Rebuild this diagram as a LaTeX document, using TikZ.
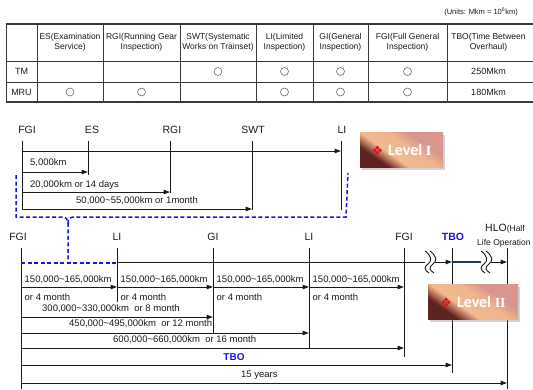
\documentclass[tikz,border=0pt]{standalone}
\usepackage{fontspec}
\setmainfont{Liberation Sans}
\newfontfamily\symfont{DejaVu Sans}
\newfontfamily\numfont{Liberation Serif}
\newfontfamily\lvfont{Carlito}
\usetikzlibrary{arrows.meta,positioning,calc,shadows}
\definecolor{mtblack}{HTML}{1A1A1A}
\definecolor{mtgrey}{HTML}{6A6A6A}
\definecolor{mtline}{HTML}{3A3A3A}
\definecolor{mtblue}{HTML}{1414E6}
\definecolor{mtnavy}{HTML}{1F3A6E}
\definecolor{mtdark}{HTML}{5E2220}
\definecolor{mtbrown}{HTML}{B8745A}
\definecolor{mtpeach}{HTML}{F2BA8E}
\definecolor{mtpink}{HTML}{D9958E}
\definecolor{mtred}{HTML}{E0141E}
\pgfdeclarehorizontalshading{lvshade}{100bp}{color(0bp)=(mtdark); color(30bp)=(mtdark);
  color(36bp)=(mtbrown); color(41bp)=(mtpeach); color(56bp)=(mtpeach!85!mtpink);
  color(66bp)=(mtpink); color(100bp)=(mtpink)}
\newcommand\kmto{\textasciitilde}
\tikzset{
  tl/.style   = {font=\fontsize{10.5}{12}\selectfont, text=mtblack, inner sep=0pt},
  km/.style   = {font=\fontsize{9.5}{11}\selectfont, text=mtblack, inner sep=0pt, anchor=west},
  hd/.style   = {font=\fontsize{8.5}{10.5}\selectfont, text=mtblack, align=center, inner sep=0pt},
  ev/.style   = {draw=mtblack, line width=1pt},
  ar/.style   = {-{Triangle[length=6.5pt,width=4.5pt]}, draw=mtblack, line width=1pt},
  grid/.style = {draw=mtline, line width=0.8pt},
  mk/.style   = {circle, draw=mtgrey, line width=0.6pt, minimum size=8pt, inner sep=0pt},
  brc/.style  = {draw=mtblue, line width=1.5pt, dash pattern=on 4pt off 2.5pt},
  lvl/.style  = {rectangle, minimum height=35pt, inner sep=0pt, shading=lvshade,
                 shading angle=55, text=white,
                 drop shadow={shadow xshift=1.5pt, shadow yshift=-2.5pt, opacity=0.35},
                 font=\lvfont\bfseries\fontsize{16}{16}\selectfont},
}
\newcommand\brk[1]{%
  \foreach \dx in {-3,2}{
    \draw[line width=0.9pt, mtblack] ($(#1)+(\dx-2,-11)$) .. controls ($(#1)+(\dx+5,-6)$) and ($(#1)+(\dx+5,-1)$) ..
      ($(#1)+(\dx+1,2)$) .. controls ($(#1)+(\dx-3,5)$) and ($(#1)+(\dx-3,8)$) .. ($(#1)+(\dx+2,11)$);
  }}
\newcommand\lvmark{{\symfont\color{mtred}\fontsize{13}{13}\selectfont ❖}\hspace{5pt}}

\begin{document}
\begin{tikzpicture}[x=1pt,y=-1pt]
  \useasboundingbox (0,0) rectangle (533,389);
  % table
  \node[hd, anchor=east, font=\fontsize{7.5}{9}\selectfont] (unit) at (518,12) {(Units: Mkm = 10\textsuperscript{6}km)};
  \draw[mtline, line width=1.6pt] (6,24) -- (533,24);
  \draw[mtline, line width=1.6pt] (6,102) -- (533,102);
  \foreach \y in {61,82}{ \draw[grid] (6,\y) -- (533,\y); }
  \foreach \x in {6,37,103,180,256,313,368,447}{ \draw[grid] (\x,24) -- (\x,102); }
  \foreach \i/\x/\t in {1/70/{ES(Examination\\Service)}, 2/141.5/{RGI(Running Gear\\Inspection)},
      3/218/{SWT(Systematic\\Works on Trainset)}, 4/284.5/{LI(Limited\\Inspection)},
      5/340.5/{GI(General\\Inspection)}, 6/407.5/{FGI(Full General\\Inspection)},
      7/488.5/{TBO(Time Between\\Overhaul)}}{
    \node[hd] (h\i) at (\x,42.5) {\t};
  }
  \node[hd, font=\fontsize{9}{10.5}\selectfont] (tm) at (21.5,71.5) {TM};
  \node[hd, font=\fontsize{9}{10.5}\selectfont] (mru) at (21.5,92) {MRU};
  \foreach \i/\x in {3/218, 4/284.5, 5/340.5, 6/407.5}{ \node[mk] (tm\i) at (\x,71.5) {}; }
  \foreach \i/\x in {1/70, 2/141.5, 4/284.5, 5/340.5, 6/407.5}{ \node[mk] (mru\i) at (\x,92) {}; }
  \node[hd, font=\fontsize{9}{10.5}\selectfont] (tm7) at (488.5,71.5) {250Mkm};
  \node[hd, font=\fontsize{9}{10.5}\selectfont] (mru7) at (488.5,92) {180Mkm};

  % level I
  \foreach \n/\x/\lx/\b/\t in {fa/22/27/210/FGI, es/88/92/175/ES, rg/170/172/193/RGI,
      sw/252/253/210/SWT, la/341/342/210/LI}{
    \node[tl] (\n) at (\lx,130) {\t};
    \coordinate (\n t) at (\x,141);
    \coordinate (\n b) at (\x,\b);
    \draw[ev] (\n t) -- (\n b);
  }
  \draw[ar] (fat |- 0,151) -- (lat |- 0,151);
  \draw[ar] (fat |- 0,172) -- (est |- 0,172);
  \draw[ar] (fat |- 0,192) -- (rgt |- 0,192);
  \draw[ar] (fat |- 0,209) -- (swt |- 0,209);
  \node[km] (k1) at (30,163) {5,000km};
  \node[km] (k2) at (30,185) {20,000km or 14 days};
  \node[km] (k3) at (76,201) {50,000\kmto55,000km or 1month};
  \node[lvl, minimum width=83pt] (lv1) at (401.5,149.5) {\lvmark Level {\numfont\fontsize{14}{14}\selectfont I}};

  % brace
  \draw[brc] (16,175) -- (16,217) -- (62,217) .. controls (66,217) and (68,219) .. (68,224) -- (68,263);
  \draw[brc] (68,224) .. controls (68,219) and (70,217) .. (74,217) -- (346,217) -- (348,173);

  % level II
  \foreach \n/\x/\lx/\b/\t in {fb/21/18/389/FGI, lb/117/117/302/LI, gi/213/213/333/GI,
      lc/309/309/348/LI, fc/404/404/357/FGI}{
    \node[tl] (\n) at (\lx,237) {\t};
    \coordinate (\n t) at (\x,248);
    \coordinate (\n b) at (\x,\b);
    \draw[ev] (\n t) -- (\n b);
  }
  \node[tl, text=mtblue, font=\bfseries\fontsize{10.5}{12}\selectfont] (tb) at (453,237) {TBO};
  \coordinate (tbt) at (452,248);
  \coordinate (tbb) at (452,373);
  \draw[ev] (tbt) -- (tbb);
  \node[tl, anchor=west] (hl) at (485,229) {HLO\fontsize{8.5}{10}\selectfont(Half};
  \node[tl, anchor=west, font=\fontsize{8.5}{10}\selectfont] (hl2) at (477,243) {Life Operation};
  \coordinate (hlt) at (507,248);
  \coordinate (hlb) at (507,389);
  \draw[ev] (hlt) -- (hlb);

  \draw[brc] (fbt |- 0,263) -- (lbt |- 0,263);
  \coordinate (bk1) at (430,262);
  \coordinate (bk2) at (486,262);
  \draw[ev] (lbt |- 0,262) -- ([xshift=-5pt]bk1);
  \brk{bk1}
  \draw[ar] ([xshift=5pt]bk1) -- (tbt |- 0,262);
  \draw[mtnavy, line width=1.3pt] (tbt |- 0,262) -- ([xshift=-5pt]bk2);
  \brk{bk2}
  \draw[ar] ([xshift=5pt]bk2) -- (hlt |- 0,262);

  \foreach \a/\b in {fb/lb, lb/gi, gi/lc, lc/fc}{
    \draw[ar] (\a t |- 0,287) -- (\b t |- 0,287);
    \node[km] (p\a) at ([xshift=3.5pt]\a t |- 0,280) {150,000\kmto165,000km};
    \node[km] (m\a) at ([xshift=3.5pt]\a t |- 0,297) {or 4 month};
  }
  \draw[ar] (fbt |- 0,317) -- (git |- 0,317);
  \draw[ar] (fbt |- 0,333) -- (lct |- 0,333);
  \draw[ar] (fbt |- 0,348) -- (fct |- 0,348);
  \draw[ar] (fbt |- 0,365) -- (tbt |- 0,365);
  \draw[ar] (fbt |- 0,383) -- (hlt |- 0,383);
  \node[km] (s8) at (42,309) {300,000\kmto330,000km\ \ or 8 month};
  \node[km] (s12) at (69,324) {450,000\kmto495,000km\ \ or 12 month};
  \node[km] (s16) at (113,340) {600,000\kmto660,000km\ \ or 16 month};
  \node[km, anchor=center, text=mtblue, font=\bfseries\fontsize{10}{12}\selectfont] (stb) at (234,357) {TBO};
  \node[km] (s15) at (241,375) {15 years};
  \node[lvl, minimum width=90pt] (lv2) at (473,301.5) {\lvmark Level {\numfont\fontsize{14}{14}\selectfont II}};
\end{tikzpicture}
\end{document}
